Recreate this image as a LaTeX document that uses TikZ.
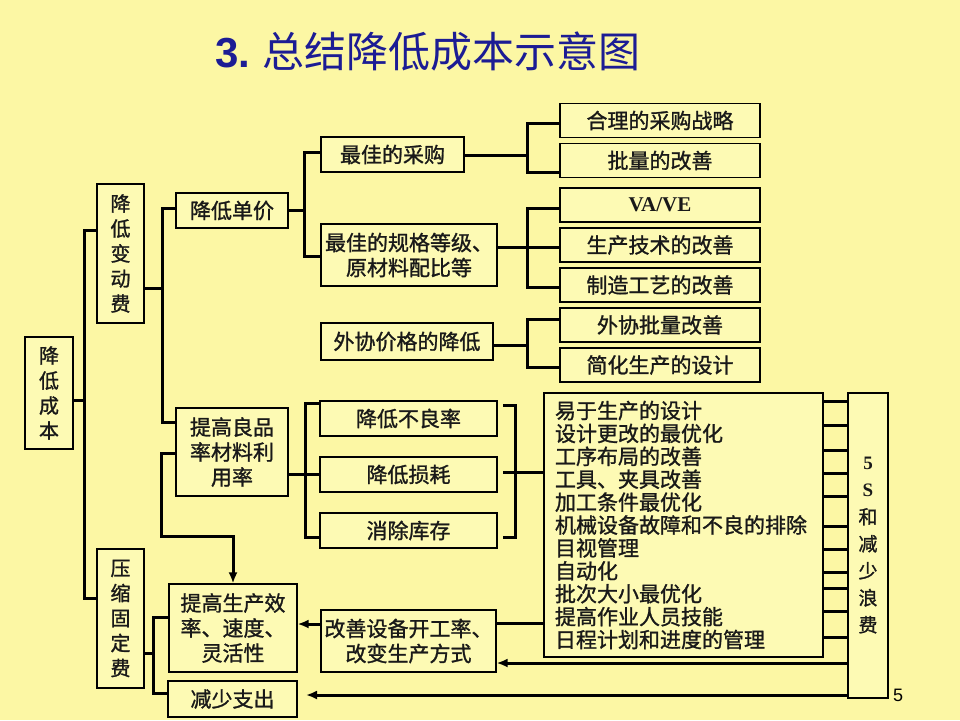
\documentclass[tikz,border=0pt]{standalone}
\usepackage{fontspec}
\setmainfont{Noto Sans CJK SC}[FakeBold=1.2]
\newfontfamily\titcjk{Noto Sans CJK SC}
\newfontfamily\lserif{Liberation Serif}
\newfontfamily\lsans{Liberation Sans}
\usetikzlibrary{arrows.meta}
\definecolor{bgc}{HTML}{FCF7A4}
\definecolor{boxc}{HTML}{FDFAB4}
\definecolor{titc}{HTML}{1C1C94}
\begin{document}
\begin{tikzpicture}[x=1pt,y=-1pt,
  bx/.style={draw=black, line width=1.2pt, fill=boxc, inner sep=0pt, align=center, text=black!90, font=\fontsize{21}{25}\selectfont},
  vbx/.style={bx, font=\fontsize{20}{25}\selectfont},
  rbx/.style={bx, minimum width=200pt, minimum height=34pt},
  mbx/.style={bx, minimum width=177pt, minimum height=35pt},
  conn/.style={line width=3pt, line join=miter},
  arr/.style={conn, -{Latex[length=11pt,width=9pt]}}]
\fill[bgc] (0,0) rectangle (960,720);
\useasboundingbox (0,0) rectangle (960,720);

\node[anchor=west, text=titc, font=\titcjk\fontsize{42}{46}\selectfont, inner sep=0pt] (title) at (215,51) {{\lsans\bfseries 3.} 总结降低成本示意图};

% boxes
\node[vbx, minimum width=48pt, minimum height=112pt] (cb) at (49,393) {降\\低\\成\\本};
\node[vbx, minimum width=47pt, minimum height=139pt] (bd) at (120.5,253.5) {降\\低\\变\\动\\费};
\node[vbx, minimum width=47pt, minimum height=139pt] (yg) at (120.5,618.5) {压\\缩\\固\\定\\费};
\node[bx, minimum width=112pt, minimum height=35pt] (dj) at (232,210.5) {降低单价};
\node[bx, minimum width=112pt, minimum height=88pt] (lp) at (232,452) {提高良品\\率材料利\\用率};
\node[bx, minimum width=143pt, minimum height=35pt] (cg) at (392.5,154.5) {最佳的采购};
\node[bx, minimum width=176pt, minimum height=62pt] (gg) at (409,255) {最佳的规格等级、\\原材料配比等};
\node[bx, minimum width=172pt, minimum height=37pt] (wx) at (407,341.5) {外协价格的降低};
\node[rbx] (r1) at (660,120.5) {合理的采购战略};
\node[rbx] (r2) at (660,160.5) {批量的改善};
\node[rbx] (r3) at (660,205) {\lserif\bfseries VA/VE};
\node[rbx] (r4) at (660,245) {生产技术的改善};
\node[rbx] (r5) at (660,285) {制造工艺的改善};
\node[rbx] (r6) at (660,325) {外协批量改善};
\node[rbx] (r7) at (660,365) {简化生产的设计};
\node[mbx] (m1) at (408.5,418.5) {降低不良率};
\node[mbx] (m2) at (408.5,474.5) {降低损耗};
\node[mbx] (m3) at (408.5,530.5) {消除库存};
\node[bx, minimum width=279pt, minimum height=264pt, text width=257pt, align=left, font=\fontsize{21}{22.9}\selectfont] (lst) at (683.5,525) {易于生产的设计\\设计更改的最优化\\工序布局的改善\\工具、夹具改善\\加工条件最优化\\机械设备故障和不良的排除\\目视管理\\自动化\\批次大小最优化\\提高作业人员技能\\日程计划和进度的管理};
\node[bx, minimum width=40pt, minimum height=305pt, font=\fontsize{19}{27}\selectfont] (ss) at (868,545.5) {{\lserif\bfseries 5}\\{\lserif\bfseries S}\\和\\减\\少\\浪\\费};
\node[bx, minimum width=128pt, minimum height=88pt] (tg) at (233,628) {提高生产效\\率、速度、\\灵活性};
\node[bx, minimum width=129pt, minimum height=36pt] (js) at (232.5,699) {减少支出};
\node[bx, minimum width=175pt, minimum height=62pt] (gs) at (408.5,641) {改善设备开工率、\\改变生产方式};
\node[font=\lsans\fontsize{18}{20}\selectfont, inner sep=0pt] (pg) at (898,695) {5};

% level 1
\coordinate (s1m) at (84,400); \coordinate (s1a) at (84,230); \coordinate (s1b) at (84,598);
\draw[conn] (cb.east |- s1m) -- (s1m);
\draw[conn] (bd.west |- s1a) -- (s1a) -- (s1b) -- (yg.west |- s1b);
% level 2
\coordinate (s2m) at (162,288); \coordinate (s2a) at (162,208); \coordinate (s2b) at (162,422);
\draw[conn] (bd.east |- s2m) -- (s2m);
\draw[conn] (dj.west |- s2a) -- (s2a) -- (s2b) -- (lp.west |- s2b);
% lp to tg
\coordinate (a1) at (161,453); \coordinate (a2) at (161,536);
\draw[arr] (lp.west |- a1) -- (a1) -- (a2) -| (tg.north);
% dj bracket
\coordinate (s3m) at (304,210.5); \coordinate (s3a) at (304,152); \coordinate (s3b) at (304,256);
\draw[conn] (dj.east) -- (s3m);
\draw[conn] (cg.west |- s3a) -- (s3a) -- (s3b) -- (gg.west |- s3b);
% cg bracket
\coordinate (s4m) at (527,155); \coordinate (s4a) at (527,123); \coordinate (s4b) at (527,172);
\draw[conn] (cg.east |- s4m) -- (s4m);
\draw[conn] (r1.west |- s4a) -- (s4a) -- (s4b) -- (r2.west |- s4b);
% gg bracket
\coordinate (s5m) at (527,247); \coordinate (s5a) at (527,208); \coordinate (s5b) at (527,287);
\draw[conn] (gg.east |- s5m) -- (r4.west |- s5m);
\draw[conn] (r3.west |- s5a) -- (s5a) -- (s5b) -- (r5.west |- s5b);
% wx bracket
\coordinate (s6m) at (527,345); \coordinate (s6a) at (527,319); \coordinate (s6b) at (527,367);
\draw[conn] (wx.east |- s6m) -- (s6m);
\draw[conn] (r6.west |- s6a) -- (s6a) -- (s6b) -- (r7.west |- s6b);
% lp bracket
\coordinate (s7m) at (305,474); \coordinate (s7a) at (305,403); \coordinate (s7b) at (305,537);
\draw[conn] (lp.east |- s7m) -- (m2.west |- s7m);
\draw[conn] (m1.west |- s7a) -- (s7a) -- (s7b) -- (m3.west |- s7b);
% right bracket of m boxes
\coordinate (q1) at (503,405); \coordinate (q2) at (503,472); \coordinate (q3) at (503,537);
\coordinate (s8a) at (515,405); \coordinate (s8b) at (515,537);
\draw[conn] (q1) -- (s8a) -- (s8b) -- (q3);
\draw[conn] (q2) -- (lst.west |- q2);
% list to 5S
\foreach \yy in {401,425,450,473,496,526,549,572,588,611,637} {
  \path (0,\yy) coordinate (ty);
  \draw[conn] (lst.east |- ty) -- (ss.west |- ty);
}
% bottom
\coordinate (u1) at (0,623); \coordinate (u2) at (0,624); \coordinate (u3) at (0,663); \coordinate (u4) at (306,695);
\draw[conn] (lst.west |- u1) -- (gs.east |- u1);
\draw[arr] (gs.west |- u2) -- (tg.east |- u2);
\draw[arr] (ss.west |- u3) -- (gs.east |- u3);
\draw[arr] (ss.west |- u4) -- (u4);
% yg bracket
\coordinate (s9m) at (153,653); \coordinate (s9a) at (153,617); \coordinate (s9b) at (153,693);
\draw[conn] (yg.east |- s9m) -- (s9m);
\draw[conn] (tg.west |- s9a) -- (s9a) -- (s9b) -- (js.west |- s9b);
\end{tikzpicture}
\end{document}
